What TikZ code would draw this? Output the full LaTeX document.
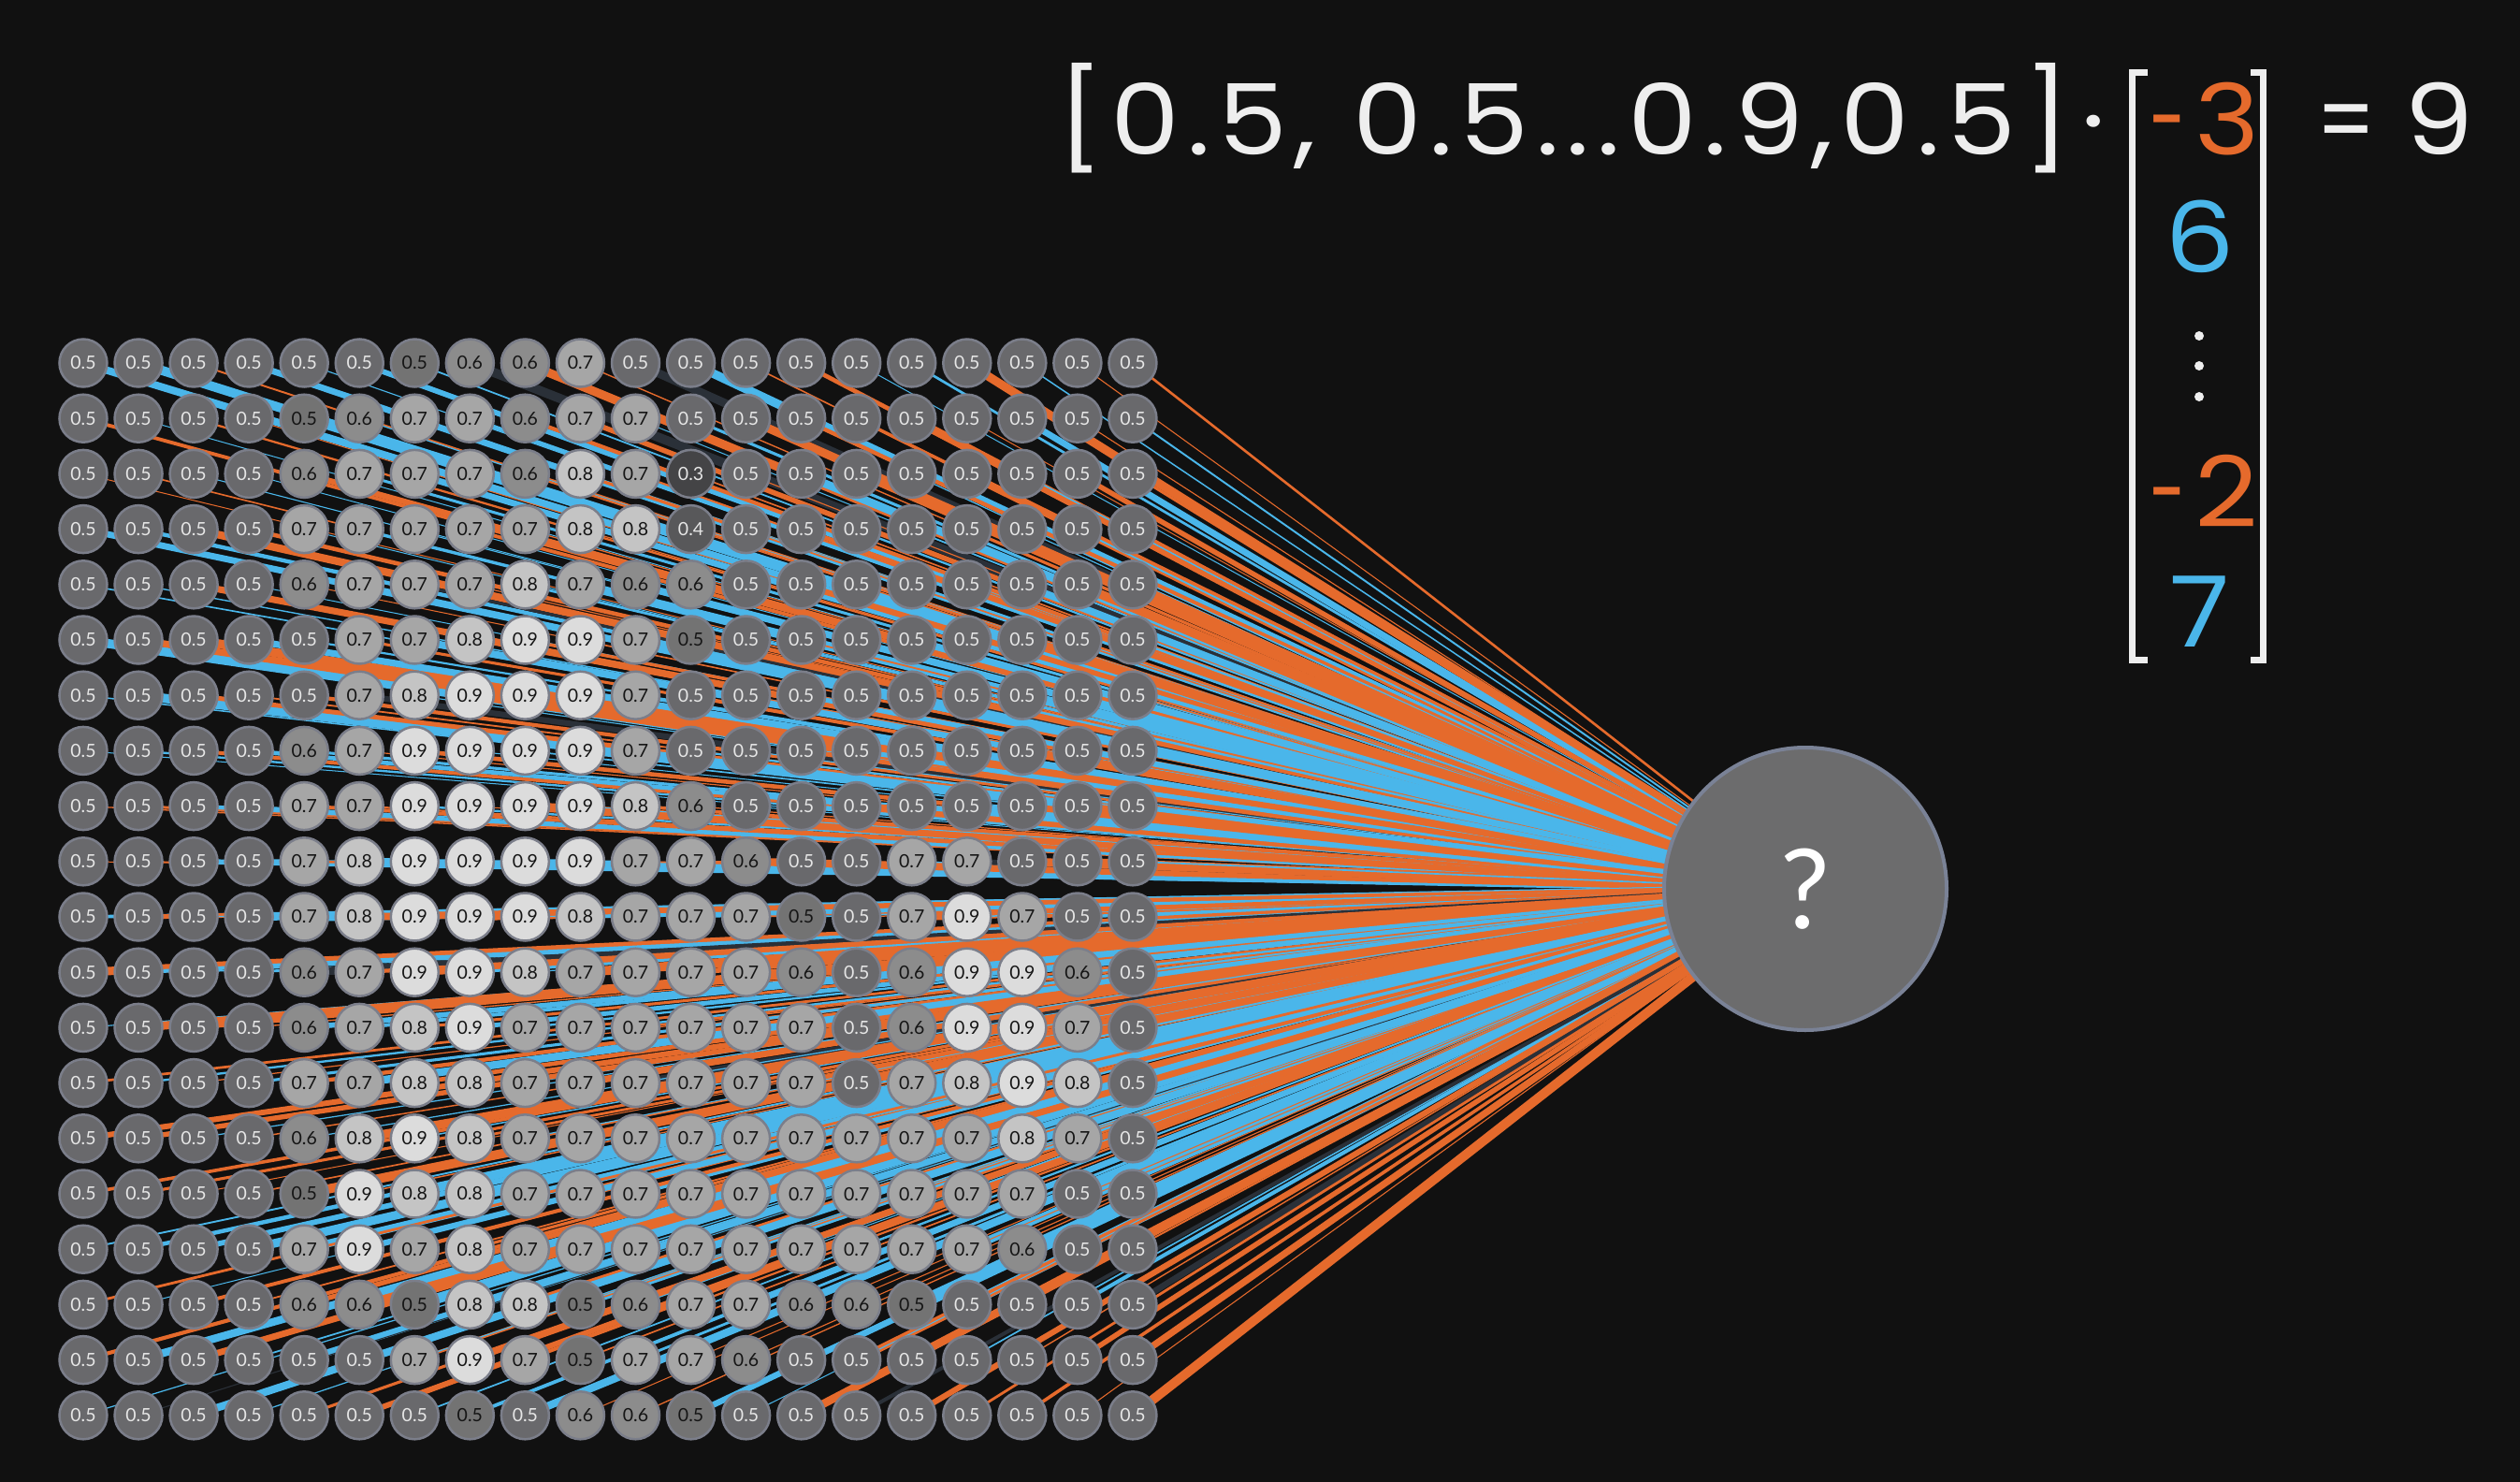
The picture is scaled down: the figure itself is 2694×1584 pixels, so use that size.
\documentclass[tikz,border=0pt]{standalone}
\usepackage{graphicx}
\usepackage{fontspec}
\setmainfont{Lato}
\newfontfamily\eqfont{Poppins}[FakeStretch=1.12, LetterSpace=7.5]
\newfontfamily\wfont{Poppins}[FakeStretch=1.12]
\definecolor{bgc}{HTML}{111111}
\definecolor{wor}{HTML}{E56A2C}
\definecolor{wbl}{HTML}{4AB6EA}
\definecolor{wdk}{HTML}{2A3038}
\definecolor{ring}{HTML}{7B7E8A}
\definecolor{lab}{HTML}{E6E6E6}
\definecolor{dk}{HTML}{151515}
\definecolor{eqw}{HTML}{EEEEEE}
\definecolor{g0}{HTML}{737373}
\definecolor{g3}{HTML}{444446}
\definecolor{g4}{HTML}{58585A}
\definecolor{g5}{HTML}{69696C}
\definecolor{g6}{HTML}{8C8C8C}
\definecolor{g7}{HTML}{A6A6A6}
\definecolor{g8}{HTML}{C4C4C4}
\definecolor{g9}{HTML}{DCDCDC}
\definecolor{bigfill}{HTML}{6C6C6D}
\definecolor{bigring}{HTML}{7A8296}
\pgfdeclarelayer{bg}
\pgfdeclarelayer{lines}
\pgfsetlayers{bg,lines,main}
\begin{document}
\begin{tikzpicture}[x=1pt,y=-1pt,
  cell/.style={circle, minimum size=51pt, inner sep=0pt, draw=ring, line width=2.5pt,
    font=\fontsize{19.5}{19.5}\selectfont},
  v0/.style={fill=g0,text=dk}, v3/.style={fill=g3,text=lab}, v4/.style={fill=g4,text=lab},
  v5/.style={fill=g5,text=lab}, v6/.style={fill=g6,text=dk}, v7/.style={fill=g7,text=dk},
  v8/.style={fill=g8,text=dk}, v9/.style={fill=g9,text=dk},
  eq/.style={font=\eqfont\fontsize{105}{105}\selectfont, inner sep=0pt},
  wt/.style={font=\wfont\fontsize{105}{105}\selectfont, inner sep=0pt},
  vdot/.style={circle, fill=eqw, minimum size=10pt, inner sep=0pt},
  bracket/.style={draw=eqw, line width=7pt}]
\begin{pgfonlayer}{bg}
\fill[bgc] (0,0) rectangle (2694,1584);
\end{pgfonlayer}
\useasboundingbox (0,0) rectangle (2694,1584);

% output neuron
\node[circle, minimum size=302pt, inner sep=0pt, fill=bigfill, draw=bigring, line width=4pt,
  text=white, font=\fontsize{118}{118}\selectfont] (out) at (1930,950) {?};

% input grid
\foreach \rowlist [count=\r] in {
{5,5,5,5,5,5,0,6,6,7,5,5,5,5,5,5,5,5,5,5},
{5,5,5,5,0,6,7,7,6,7,7,5,5,5,5,5,5,5,5,5},
{5,5,5,5,6,7,7,7,6,8,7,3,5,5,5,5,5,5,5,5},
{5,5,5,5,7,7,7,7,7,8,8,4,5,5,5,5,5,5,5,5},
{5,5,5,5,6,7,7,7,8,7,6,6,5,5,5,5,5,5,5,5},
{5,5,5,5,5,7,7,8,9,9,7,0,5,5,5,5,5,5,5,5},
{5,5,5,5,5,7,8,9,9,9,7,5,5,5,5,5,5,5,5,5},
{5,5,5,5,6,7,9,9,9,9,7,5,5,5,5,5,5,5,5,5},
{5,5,5,5,7,7,9,9,9,9,8,6,5,5,5,5,5,5,5,5},
{5,5,5,5,7,8,9,9,9,9,7,7,6,5,5,7,7,5,5,5},
{5,5,5,5,7,8,9,9,9,8,7,7,7,0,5,7,9,7,5,5},
{5,5,5,5,6,7,9,9,8,7,7,7,7,6,5,6,9,9,6,5},
{5,5,5,5,6,7,8,9,7,7,7,7,7,7,5,6,9,9,7,5},
{5,5,5,5,7,7,8,8,7,7,7,7,7,7,5,7,8,9,8,5},
{5,5,5,5,6,8,9,8,7,7,7,7,7,7,7,7,7,8,7,5},
{5,5,5,5,0,9,8,8,7,7,7,7,7,7,7,7,7,7,5,5},
{5,5,5,5,7,9,7,8,7,7,7,7,7,7,7,7,7,6,5,5},
{5,5,5,5,6,6,0,8,8,0,6,7,7,6,6,0,5,5,5,5},
{5,5,5,5,5,5,7,9,7,0,7,7,6,5,5,5,5,5,5,5},
{5,5,5,5,5,5,5,0,5,6,6,0,5,5,5,5,5,5,5,5}}
{
  \foreach \v [count=\c] in \rowlist {
    \ifnum\v=0 \def\lbl{0.5}\else\edef\lbl{0.\v}\fi
    \node[cell, v\v] (n-\r-\c) at ({89+(\c-1)*59.05},{388+(\r-1)*59.2}) {\lbl};
  }
}

% weighted connections
\begin{pgfonlayer}{lines}
\pgfmathsetseed{20231}
\foreach \r in {1,...,20} {
  \foreach \c in {1,...,20} {
    \pgfmathsetmacro\u{rnd}
    \pgfmathsetmacro\k{rnd}
    \pgfmathsetmacro\w{1+9*\u*\u}
    \ifdim\k pt<0.47pt \def\lc{wor}\else
      \ifdim\k pt<0.51pt \def\lc{wdk}\else \def\lc{wbl}\fi\fi
    \draw[line width=\w pt, \lc] (n-\r-\c.center) -- (out.center);
  }
}
\end{pgfonlayer}

% equation
\node[eq, anchor=base west, text=eqw] (vec) at (1130,165) {[0.5, 0.5...0.9,0.5]};
\node[wt, anchor=base, text=eqw] (dot) at (2238,165) {·};
\coordinate (lbt) at (2296,78);
\coordinate (lbb) at (2296,705);
\coordinate (rbt) at (2406,78);
\coordinate (rbb) at (2406,705);
\draw[bracket] (lbt) -- ++(-17,0) |- (lbb);
\draw[bracket] (rbt) -- ++(13,0) |- (rbb);
\node[wt, anchor=base west, text=wor] (w1) at (2298,165) {\scalebox{0.6}[1]{-}\hspace{9pt}3};
\node[wt, anchor=base, text=wbl] (w2) at (2352,291) {6};
\node[vdot] (d1) at (2351,359) {};
\node[vdot] (d2) at (2351,391) {};
\node[vdot] (d3) at (2351,424) {};
\node[wt, anchor=base west, text=wor] (w3) at (2298,563) {\scalebox{0.6}[1]{-}\hspace{9pt}2};
\node[wt, anchor=base, text=wbl] (w4) at (2352,691) {7};
\node[wt, anchor=base east, text=eqw] (res) at (2645,165) {\scalebox{0.75}[1]{=}\hspace{30pt}9};
\end{tikzpicture}
\end{document}
